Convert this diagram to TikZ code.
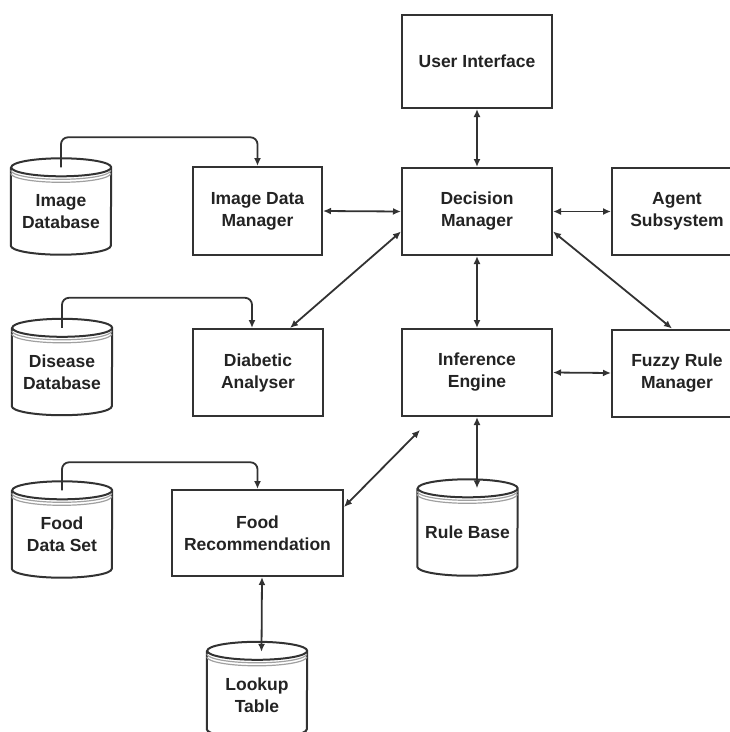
\documentclass[tikz,border=0pt]{standalone}
\usepackage{fontspec}
\setmainfont{Liberation Sans}
\usetikzlibrary{arrows.meta,calc}
\definecolor{linegray}{RGB}{50,50,50}
\definecolor{stripegray}{RGB}{160,160,160}
\definecolor{textgray}{RGB}{35,35,35}

\tikzset{
  box/.style={draw=linegray, line width=2pt, minimum width=130pt, minimum height=87pt,
    align=center, inner sep=2pt, text=textgray, font=\bfseries\fontsize{17.5}{22}\selectfont},
  dbnode/.style={minimum width=100pt, minimum height=96pt, align=center, inner sep=0pt,
    text=textgray, font=\bfseries\fontsize{17.5}{22}\selectfont},
  dbline/.style={draw=linegray, line width=2pt},
  stripe/.style={draw=stripegray, line width=1.2pt},
  link/.style={draw=linegray, line width=1.8pt},
}

% database drum: name, x, y, label
\newcommand{\database}[4]{%
  \node[dbnode] (#1) at (#2,#3) {#4};
  \draw[dbline] ([yshift=-4pt]#1.north west) -- ([yshift=14pt]#1.south west)
    arc[start angle=180, end angle=360, x radius=50pt, y radius=9pt]
    -- ([yshift=-4pt]#1.north east)
    arc[start angle=0, end angle=180, x radius=50pt, y radius=9pt]
    arc[start angle=180, end angle=360, x radius=50pt, y radius=9pt];
  \foreach \s in {-7pt,-10pt}
    \draw[stripe] ([yshift=\s]#1.north west) arc[start angle=180, end angle=360, x radius=50pt, y radius=9pt];
}

\begin{document}
\begin{tikzpicture}[x=1pt, y=-1pt, >={Latex[length=8pt,width=7pt]}]
    \useasboundingbox (0,0) rectangle (730,732);
    \clip (0,0) rectangle (730,732);

    % blocks
    \node[box, minimum width=150pt, minimum height=93pt] (ui) at (477,61.5) {User Interface};
    \node[box, minimum width=150pt] (dm) at (477,211.5) {Decision\\Manager};
    \node[box] (agent) at (677,211.5) {Agent\\Subsystem};
    \node[box, minimum width=129pt, minimum height=88pt] (idm) at (257.5,211) {Image Data\\Manager};
    \node[box] (da) at (258,372.5) {Diabetic\\Analyser};
    \node[box, minimum width=150pt] (ie) at (477,372.5) {Inference\\Engine};
    \node[box] (frm) at (677,373) {Fuzzy Rule\\Manager};
    \node[box, minimum width=171pt, minimum height=86pt] (fr) at (257.5,533) {Food\\Recommendation};

    % databases
    \database{imgdb}{61}{211.5}{Image\\Database}
    \database{disdb}{62}{372}{Disease\\Database}
    \database{fooddb}{62}{534.5}{Food\\Data Set}
    \database{rb}{467.5}{532.5}{Rule Base}
    \database{lookup}{257}{695}{Lookup\\Table}

    % data feeds
    \draw[link, ->, rounded corners=7pt] ([yshift=-4pt]imgdb.north) -- ++(0,-30) -| (idm.north);
    \draw[link, ->, rounded corners=7pt] ([yshift=-4pt]disdb.north) -- ++(0,-30) -| ([xshift=-6pt]da.north);
    \draw[link, ->, rounded corners=7pt] ([yshift=-4pt]fooddb.north) -- ++(0,-28) -| (fr.north);

    % two-way links
    \draw[link, <->] (ui.south) -- (dm.north);
    \draw[link, <->] (idm.east) -- (dm.west);
    \draw[link, <->] (dm.east) -- (agent.west);
    \draw[link, <->] (dm.south) -- (ie.north);
    \draw[link, <->] ([yshift=-20pt]dm.west) -- ([xshift=32pt]da.north);
    \draw[link, <->] ([yshift=-20pt]dm.east) -- ([xshift=-5pt]frm.north);
    \draw[link, <->] (ie.east) -- (frm.west);
    \draw[link, <->] (ie.south) -- ([yshift=-4pt]ie.south |- rb.north);
    \coordinate (iegap) at (420,430);
    \draw[link, <->] ([yshift=-18pt]fr.north east) -- (iegap);
    \draw[link, <->] ([xshift=4.5pt]fr.south) -- ([xshift=4.5pt,yshift=-5pt]lookup.north);
\end{tikzpicture}
\end{document}
